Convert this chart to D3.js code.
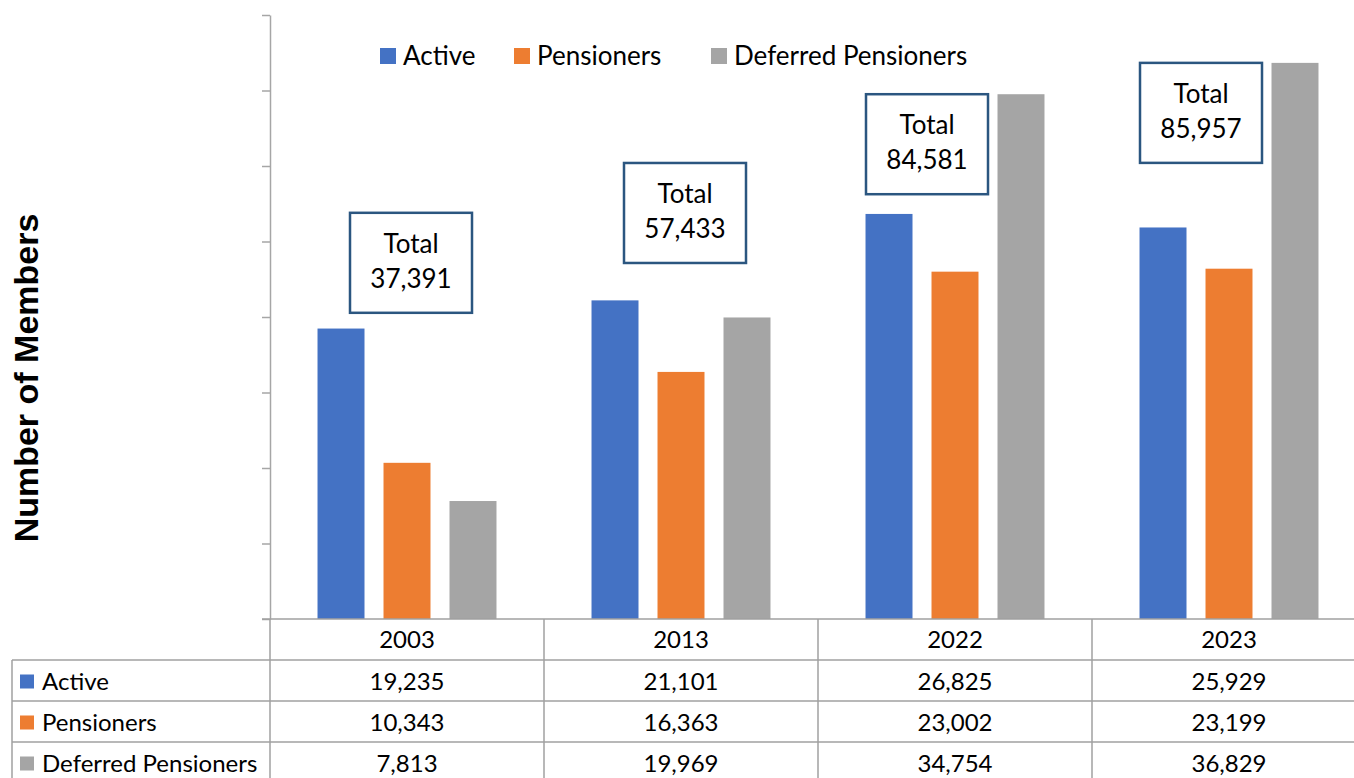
<!DOCTYPE html>
<html>
<head>
<meta charset="utf-8">
<script src="https://cdn.jsdelivr.net/npm/d3@7"></script>
<style>
  body { margin: 0; background: #fff; }
  svg { display: block; font-family: Lato, "Open Sans", sans-serif; }
</style>
</head>
<body>
<div id="chart"></div>
<script>
var years = ['2003', '2013', '2022', '2023'];
var seriesNames = ['Active', 'Pensioners', 'Deferred Pensioners'];
var colors = ['#4472C4', '#ED7D31', '#A5A5A5'];
var active = [19235, 21101, 26825, 25929];
var pensioners = [10343, 16363, 23002, 23199];
var deferred = [7813, 19969, 34754, 36829];
var totals = [37391, 57433, 84581, 85957];
var yTicks = [0, 5000, 10000, 15000, 20000, 25000, 30000, 35000, 40000];
// where the "Total" callouts sit (top edge in data units, shift from the category centre)
var calloutTop = [26900, 30200, 34754, 36829];
var calloutShift = [4, 4, -28, -28];

var f = d3.format(',');
var values = [active, pensioners, deferred];

var width = 1354, height = 778;
var plotLeft = 270, plotTop = 15, plotBottom = 619;
var rowH = 41;

var svg = d3.select('#chart')
    .append('svg')
    .attr('width', width)
    .attr('height', height);

var x = d3.scaleBand()
    .domain(years)
    .range([plotLeft, plotLeft + 274 * 4])
    .padding(0);

var x1 = d3.scaleBand()
    .domain(seriesNames)
    .range([0, x.bandwidth()])
    .paddingInner(0.288)
    .paddingOuter(0.72);

var y = d3.scaleLinear()
    .domain([0, 40000])
    .range([plotBottom, plotTop]);

//Y axis line + tick marks, no labels
var yAxis = svg.append('g')
    .attr('transform', 'translate(' + plotLeft + ',0)')
    .call(d3.axisLeft(y).tickValues(yTicks).tickSize(8).tickFormat('').tickSizeOuter(0));
yAxis.select('.domain').attr('stroke', '#A6A6A6').attr('stroke-width', 1.5);
yAxis.selectAll('.tick line').attr('stroke', '#A6A6A6').attr('stroke-width', 1.5);

//Bars
var groups = svg.selectAll('.year')
    .data(years)
    .enter()
    .append('g')
    .attr('class', 'year')
    .attr('transform', function(d){ return 'translate(' + x(d) + ',0)'; });

groups.selectAll('rect')
    .data(function(d, i){
        return seriesNames.map(function(s, j){ return {s: s, v: values[j][i], c: colors[j]}; });
    })
    .enter()
    .append('rect')
    .attr('x', function(d){ return x1(d.s); })
    .attr('width', x1.bandwidth())
    .attr('y', function(d){ return y(d.v); })
    .attr('height', function(d){ return plotBottom - y(d.v); })
    .style('fill', function(d){ return d.c; });

//Total callouts
var boxW = 122, boxH = 100;
var callouts = svg.selectAll('.callout')
    .data(years)
    .enter()
    .append('g')
    .attr('class', 'callout')
    .attr('transform', function(d, i){
        var cx = x(d) + x.bandwidth() / 2 + calloutShift[i];
        return 'translate(' + (cx - boxW / 2) + ',' + y(calloutTop[i]) + ')';
    });
callouts.append('rect')
    .attr('width', boxW)
    .attr('height', boxH)
    .style('fill', '#fff')
    .style('stroke', '#2B5680')
    .style('stroke-width', 2.5);
callouts.append('text')
    .attr('x', boxW / 2)
    .attr('y', 40)
    .attr('text-anchor', 'middle')
    .style('font-size', '26px')
    .text('Total');
callouts.append('text')
    .attr('x', boxW / 2)
    .attr('y', 75)
    .attr('text-anchor', 'middle')
    .style('font-size', '26px')
    .text(function(d, i){ return f(totals[i]); });

//Legend
var legendX = [380, 514, 711];
var legend = svg.selectAll('.legend')
    .data(seriesNames)
    .enter()
    .append('g')
    .attr('class', 'legend')
    .attr('transform', function(d, i){ return 'translate(' + legendX[i] + ',48)'; });
legend.append('rect')
    .attr('width', 16)
    .attr('height', 16)
    .style('fill', function(d, i){ return colors[i]; });
legend.append('text')
    .attr('x', 23)
    .attr('y', 17)
    .style('font-size', '26px')
    .text(function(d){ return d; });

//Y axis title
svg.append('text')
    .attr('transform', 'translate(38,378) rotate(-90)')
    .attr('text-anchor', 'middle')
    .style('font-family', '"Liberation Sans", Arial, sans-serif')
    .style('font-weight', 'bold')
    .style('font-size', '34px')
    .text('Number of Members');

//Data table
var grid = '#A0A0A0';
var table = svg.append('g');
// horizontal lines
table.append('line')
    .attr('x1', 262).attr('x2', width).attr('y1', plotBottom).attr('y2', plotBottom)
    .style('stroke', grid).style('stroke-width', 1.5);
[1, 2, 3, 4].forEach(function(r){
    table.append('line')
        .attr('x1', 12).attr('x2', width)
        .attr('y1', plotBottom + r * rowH).attr('y2', plotBottom + r * rowH)
        .style('stroke', grid).style('stroke-width', 1.5);
});
// vertical lines
table.append('line')
    .attr('x1', 12).attr('x2', 12).attr('y1', plotBottom + rowH).attr('y2', height)
    .style('stroke', grid).style('stroke-width', 1.5);
years.forEach(function(yr){
    table.append('line')
        .attr('x1', x(yr)).attr('x2', x(yr)).attr('y1', plotBottom).attr('y2', height)
        .style('stroke', grid).style('stroke-width', 1.5);
});

table.selectAll('.yr')
    .data(years)
    .enter()
    .append('text')
    .attr('x', function(d){ return x(d) + x.bandwidth() / 2; })
    .attr('y', plotBottom + rowH / 2 + 8)
    .attr('text-anchor', 'middle')
    .style('font-size', '24px')
    .text(function(d){ return d; });

seriesNames.forEach(function(s, j){
    var ry = plotBottom + (j + 1) * rowH;
    table.append('rect')
        .attr('x', 20).attr('y', ry + rowH / 2 - 6)
        .attr('width', 14).attr('height', 14)
        .style('fill', colors[j]);
    table.append('text')
        .attr('x', 42).attr('y', ry + rowH / 2 + 9)
        .style('font-size', '24px')
        .text(s);
    table.selectAll('.v' + j)
        .data(values[j])
        .enter()
        .append('text')
        .attr('x', function(d, i){ return x(years[i]) + x.bandwidth() / 2; })
        .attr('y', ry + rowH / 2 + 9)
        .attr('text-anchor', 'middle')
        .style('font-size', '24px')
        .text(function(d){ return f(d); });
});
</script>
</body>
</html>
